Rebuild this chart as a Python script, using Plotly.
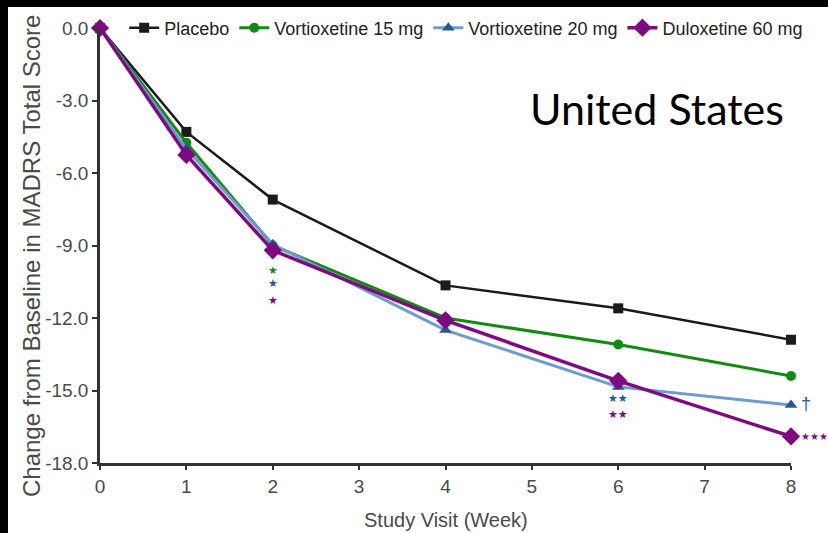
import plotly.graph_objects as go

# Study visits (weeks) and mean change from baseline in MADRS total score
weeks = [0, 1, 2, 4, 6, 8]
placebo = [0.0, -4.3, -7.1, -10.65, -11.6, -12.9]
vortioxetine_15 = [0.0, -4.75, -9.0, -12.0, -13.1, -14.4]
vortioxetine_20 = [0.0, -5.0, -8.95, -12.5, -14.85, -15.6]
duloxetine_60 = [0.0, -5.25, -9.2, -12.1, -14.6, -16.9]

series_names = ["Placebo", "Vortioxetine 15 mg", "Vortioxetine 20 mg", "Duloxetine 60 mg"]
y_ticks = [0, -3, -6, -9, -12, -15, -18]
y_tick_text = [f"{v:.1f}" for v in y_ticks]
x_ticks = [0, 1, 2, 3, 4, 5, 6, 7, 8]

BLACK = "#1b1b1b"
GREEN = "#138a13"
BLUE_LINE = "#6c9bd0"
BLUE_MARK = "#27579a"
PURPLE = "#7d0a80"
AXIS = "#333333"
TEXT = "#4a4a4a"
FONT = "Liberation Sans, Arial, sans-serif"

W, H = 828, 533
ML, MR, MT, MB = 100, 37, 28, 70
PW, PH = W - ML - MR, H - MT - MB


def px_x(x):
    """Pixel column -> paper x."""
    return (x - ML) / PW


def px_y(y):
    """Pixel row -> paper y."""
    return 1 - (y - MT) / PH


fig = go.Figure()

fig.add_trace(go.Scatter(
    x=weeks, y=placebo, name=series_names[0], mode="lines+markers",
    line=dict(color=BLACK, width=2.5),
    marker=dict(symbol="square", size=10, color=BLACK),
    cliponaxis=False,
))
fig.add_trace(go.Scatter(
    x=weeks, y=vortioxetine_15, name=series_names[1], mode="lines+markers",
    line=dict(color=GREEN, width=3),
    marker=dict(symbol="circle", size=10, color=GREEN),
    cliponaxis=False,
))
fig.add_trace(go.Scatter(
    x=weeks, y=vortioxetine_20, name=series_names[2], mode="lines+markers",
    line=dict(color=BLUE_LINE, width=3),
    marker=dict(symbol="triangle-up", size=11, color=BLUE_MARK),
    cliponaxis=False,
))
fig.add_trace(go.Scatter(
    x=weeks, y=duloxetine_60, name=series_names[3], mode="lines+markers",
    line=dict(color=PURPLE, width=3.5),
    marker=dict(symbol="diamond", size=14, color=PURPLE),
    cliponaxis=False,
))

# Significance markers versus placebo
star_font = dict(family="DejaVu Sans", size=11)
notes = [
    (2, vortioxetine_15[2], "★", GREEN, -25),
    (2, vortioxetine_20[2], "★", BLUE_MARK, -39),
    (2, duloxetine_60[2], "★", PURPLE, -50),
    (6, vortioxetine_20[4], "★★", BLUE_MARK, -12),
    (6, duloxetine_60[4], "★★", PURPLE, -34),
]
for x, y, txt, col, dy in notes:
    fig.add_annotation(x=x, y=y, text=txt, showarrow=False, yshift=dy,
                       font=dict(star_font, color=col))

fig.add_annotation(x=8, y=vortioxetine_20[5], text="†", showarrow=False,
                   xanchor="left", xshift=8, yshift=1,
                   font=dict(family=FONT, size=18, color=BLUE_MARK))
fig.add_annotation(x=8, y=duloxetine_60[5], text="★★★", showarrow=False,
                   xanchor="left", xshift=8, yshift=0,
                   font=dict(family="DejaVu Sans", size=10, color=PURPLE))

# Region label
fig.add_annotation(x=px_x(786), y=px_y(108), xref="paper", yref="paper", text="United States",
                   showarrow=False, xanchor="right", yanchor="middle",
                   font=dict(family="Lato, Open Sans, sans-serif", size=43, color="#000000"))

# Axis titles
fig.add_annotation(x=px_x(31), y=px_y(256), xref="paper", yref="paper",
                   text="Change from Baseline in MADRS Total Score",
                   showarrow=False, textangle=-90, xanchor="center", yanchor="middle",
                   font=dict(family=FONT, size=24, color=TEXT))
fig.add_annotation(x=px_x(446), y=px_y(520), xref="paper", yref="paper",
                   text="Study Visit (Week)",
                   showarrow=False, xanchor="center", yanchor="middle",
                   font=dict(family=FONT, size=20, color=TEXT))

# Dark frame bands along the top and left edges
fig.add_shape(type="rect", xref="paper", yref="paper", x0=px_x(-20), x1=px_x(8),
              y0=px_y(H + 20), y1=px_y(-20),
              fillcolor="black", line_width=0, layer="above")
fig.add_shape(type="rect", xref="paper", yref="paper", x0=px_x(-20), x1=px_x(W + 20),
              y0=px_y(7), y1=px_y(-20),
              fillcolor="black", line_width=0, layer="above")

fig.update_layout(
    width=W, height=H,
    margin=dict(l=ML, r=MR, t=MT, b=MB, autoexpand=False),
    paper_bgcolor="white", plot_bgcolor="white",
    font=dict(family=FONT, color=TEXT),
    showlegend=True,
    legend=dict(orientation="h", x=0.035, y=1.0, xanchor="left", yanchor="middle",
                font=dict(family=FONT, size=18, color="#222222"),
                bgcolor="rgba(0,0,0,0)", itemwidth=30, tracegroupgap=0),
    xaxis=dict(range=[0, 8], tickvals=x_ticks, showgrid=False, zeroline=False,
               showline=True, linecolor=AXIS, linewidth=2.5, automargin=False,
               ticks="outside", ticklen=4, tickwidth=2, tickcolor=AXIS,
               tickfont=dict(size=19, color=TEXT)),
    yaxis=dict(range=[-18, 0], tickvals=y_ticks, ticktext=y_tick_text,
               showgrid=False, zeroline=False, automargin=False,
               showline=True, linecolor=AXIS, linewidth=2.5,
               ticks="outside", ticklen=5, tickwidth=2, tickcolor=AXIS,
               tickfont=dict(size=19, color=TEXT)),
)

fig.write_html("out.html")
